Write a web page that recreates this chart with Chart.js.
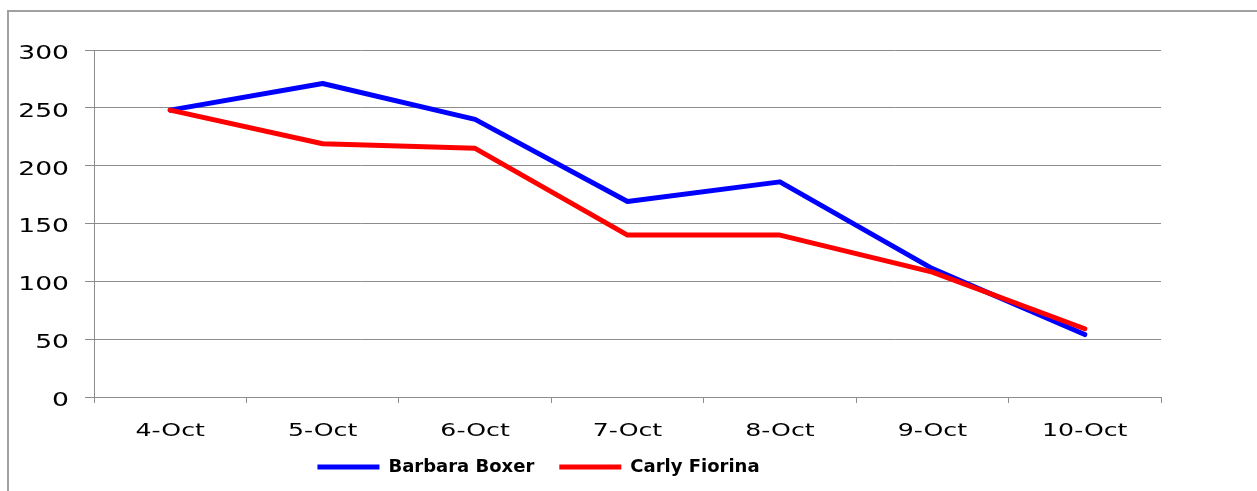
<!DOCTYPE html>
<html>
<head>
<meta charset="utf-8">
<script src="https://cdn.jsdelivr.net/npm/chart.js@4.4.1/dist/chart.umd.min.js"></script>
<style>
  html, body { margin: 0; padding: 0; background: #fff; overflow: hidden; }
  #frame {
    position: absolute; left: 7px; top: 10px; width: 1400px; height: 600px;
    border-left: 2px solid #a0a0a0; border-top: 2px solid #a0a0a0;
  }
  #chart { position: absolute; left: 0; top: 0; }
</style>
</head>
<body>
<div id="frame"></div>
<canvas id="chart" width="1257" height="491"></canvas>
<script>
// Dados
const categorias = ['4-Oct', '5-Oct', '6-Oct', '7-Oct', '8-Oct', '9-Oct', '10-Oct'];
const barbaraBoxer = [248, 271, 240, 169, 186, 111, 54];
const carlyFiorina = [248, 219, 215, 140, 140, 108, 59];
const yTicks = [0, 50, 100, 150, 200, 250, 300];

const GRID = '#8c8c8c';
const FONT = 'DejaVu Sans, Verdana, sans-serif';
const STRETCH = 1.4; // os rótulos dos eixos aparecem esticados na horizontal

const stretchedLabels = {
  id: 'stretchedLabels',
  afterLayout(chart) {
    Object.values(chart.scales).forEach(scale => {
      if (scale._stretched) return;
      const orig = scale.drawLabels;
      scale._computeLabelArea = () => undefined; // sem recorte dos rótulos
      scale.drawLabels = function (area) {
        const ctx = this.ctx;
        const fill = ctx.fillText;
        ctx.fillText = function (t, x, y) {
          this.save();
          this.translate(x, y);
          this.scale(STRETCH, 1);
          fill.call(this, t, 0, 0);
          this.restore();
        };
        orig.call(this, area);
        delete ctx.fillText;
      };
      scale._stretched = true;
    });
    // posiciona a legenda como no original
    const lg = chart.legend;
    if (lg) {
      lg.left -= 42; lg.right -= 42;
      lg.top = 433; lg.bottom = lg.top + lg.height;
    }
  }
};

new Chart(document.getElementById('chart'), {
  type: 'line',
  data: {
    labels: categorias,
    datasets: [
      {
        label: 'Barbara Boxer',
        data: barbaraBoxer,
        borderColor: '#0000ff',
        backgroundColor: '#0000ff',
        borderWidth: 5,
        pointRadius: 0,
        tension: 0,
        borderJoinStyle: 'round',
        borderCapStyle: 'round',
        order: 1
      },
      {
        label: 'Carly Fiorina',
        data: carlyFiorina,
        borderColor: '#ff0000',
        backgroundColor: '#ff0000',
        borderWidth: 5,
        pointRadius: 0,
        tension: 0,
        borderJoinStyle: 'round',
        borderCapStyle: 'round',
        order: 0
      }
    ]
  },
  options: {
    responsive: false,
    animation: false,
    layout: { padding: { top: 50, right: 96, bottom: 0, left: 0 } },
    plugins: {
      tooltip: { enabled: false },
      legend: {
        position: 'bottom',
        labels: {
          boxWidth: 62,
          boxHeight: 5,
          padding: 25,
          color: '#000',
          font: { family: FONT, size: 18, weight: 'bold' },
          sort: (a, b) => a.datasetIndex - b.datasetIndex,
          generateLabels(chart) {
            return chart.data.datasets.map((ds, i) => ({
              text: ds.label,
              fillStyle: ds.borderColor,
              strokeStyle: ds.borderColor,
              lineWidth: 0,
              datasetIndex: i,
              hidden: false
            }));
          }
        }
      }
    },
    scales: {
      x: {
        offset: true,
        grid: { offset: true, drawOnChartArea: false, drawTicks: true, tickLength: 6, color: GRID },
        border: { color: GRID, width: 1 },
        ticks: { color: '#000', font: { family: FONT, size: 18 }, padding: 18, maxRotation: 0 },
        afterFit(scale) { scale.height = 41; }
      },
      y: {
        min: 0,
        max: 300,
        afterBuildTicks(scale) { scale.ticks = yTicks.map(v => ({ value: v })); },
        grid: { color: GRID, tickLength: 9 },
        border: { color: GRID, width: 1 },
        ticks: { color: '#000', font: { family: FONT, size: 19 }, padding: 16, labelOffset: 4 },
        afterFit(scale) { scale.width = 94; }
      }
    }
  },
  plugins: [stretchedLabels]
});
</script>
</body>
</html>
